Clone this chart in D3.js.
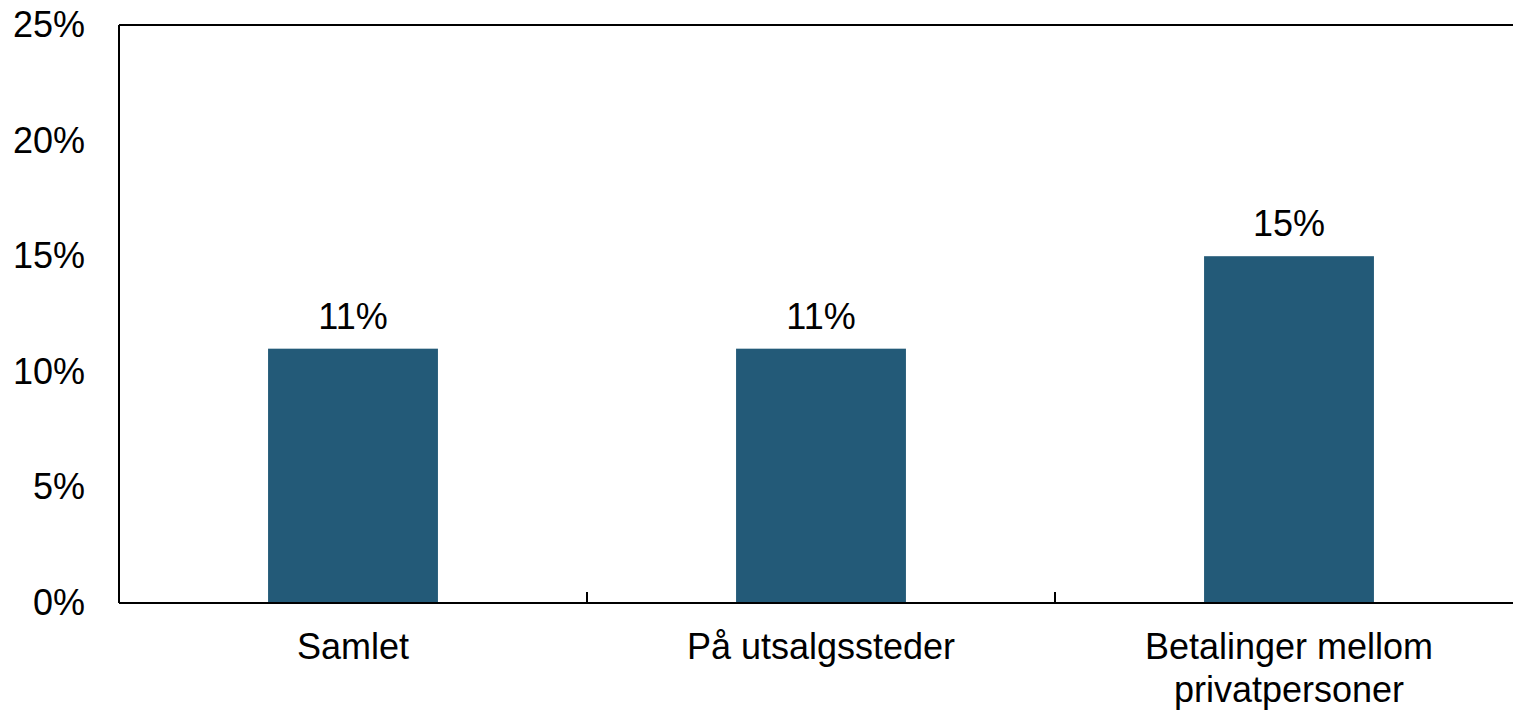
<!DOCTYPE html>
<html>
<head>
<meta charset="utf-8">
<script src="https://cdn.jsdelivr.net/npm/d3@7"></script>
<style>
  body { margin: 0; background: #fff; }
  svg { display: block; font-family: "Liberation Sans", Arial, sans-serif; }
</style>
</head>
<body>
<script>
const categories = ["Samlet", "På utsalgssteder", "Betalinger mellom\nprivatpersoner"];
const values = [11, 11, 15];
const yTicks = [0, 5, 10, 15, 20, 25];

const W = 1513, H = 712;
const margin = {left: 119, top: 25, right: -10, bottom: 109};
const fs = 36;

const svg = d3.select("body").append("svg")
    .attr("width", W)
    .attr("height", H);

const x = d3.scaleBand()
    .domain(categories)
    .range([margin.left, W - margin.right])
    .paddingInner(0.637)
    .paddingOuter(0.3185);

const xBounds = d3.scaleBand()
    .domain(categories)
    .range([margin.left, W - margin.right]);

const y = d3.scaleLinear()
    .domain([0, 25])
    .range([H - margin.bottom, margin.top]);

// bars
svg.selectAll("rect.bar")
    .data(values)
    .join("rect")
    .attr("class", "bar")
    .attr("x", (d, i) => x(categories[i]))
    .attr("width", x.bandwidth())
    .attr("y", d => y(d))
    .attr("height", d => y(0) - y(d))
    .attr("fill", "#235a78");

// value labels
svg.selectAll("text.val")
    .data(values)
    .join("text")
    .attr("class", "val")
    .attr("x", (d, i) => x(categories[i]) + x.bandwidth() / 2)
    .attr("y", d => y(d) - 20)
    .attr("text-anchor", "middle")
    .attr("font-size", fs)
    .attr("fill", "#000")
    .text(d => d + "%");

// frame: left, top, bottom
const frame = svg.append("g")
    .attr("stroke", "#000")
    .attr("stroke-width", 2)
    .attr("fill", "none");
frame.append("line")
    .attr("x1", margin.left).attr("x2", margin.left)
    .attr("y1", y(25)).attr("y2", y(0));
frame.append("line")
    .attr("x1", margin.left).attr("x2", W - margin.right)
    .attr("y1", y(25)).attr("y2", y(25));
frame.append("line")
    .attr("x1", margin.left).attr("x2", W - margin.right)
    .attr("y1", y(0)).attr("y2", y(0));

// category divider ticks
svg.append("g")
    .selectAll("line")
    .data(categories.slice(1))
    .join("line")
    .attr("x1", d => xBounds(d)).attr("x2", d => xBounds(d))
    .attr("y1", y(0)).attr("y2", y(0) - 11)
    .attr("stroke", "#000")
    .attr("stroke-width", 2);

// y axis labels
svg.append("g")
    .selectAll("text")
    .data(yTicks)
    .join("text")
    .attr("x", 85)
    .attr("y", d => y(d) + 12)
    .attr("text-anchor", "end")
    .attr("font-size", fs)
    .attr("fill", "#000")
    .text(d => d + "%");

// x axis labels
const xl = svg.append("g")
    .selectAll("text")
    .data(categories)
    .join("text")
    .attr("x", d => xBounds(d) + xBounds.bandwidth() / 2)
    .attr("y", 659)
    .attr("text-anchor", "middle")
    .attr("font-size", fs)
    .attr("fill", "#000");
xl.selectAll("tspan")
    .data(d => d.split("\n"))
    .join("tspan")
    .attr("x", function(){ return this.parentNode.getAttribute("x"); })
    .attr("dy", (d, i) => i ? 43 : 0)
    .text(d => d);
</script>
</body>
</html>
